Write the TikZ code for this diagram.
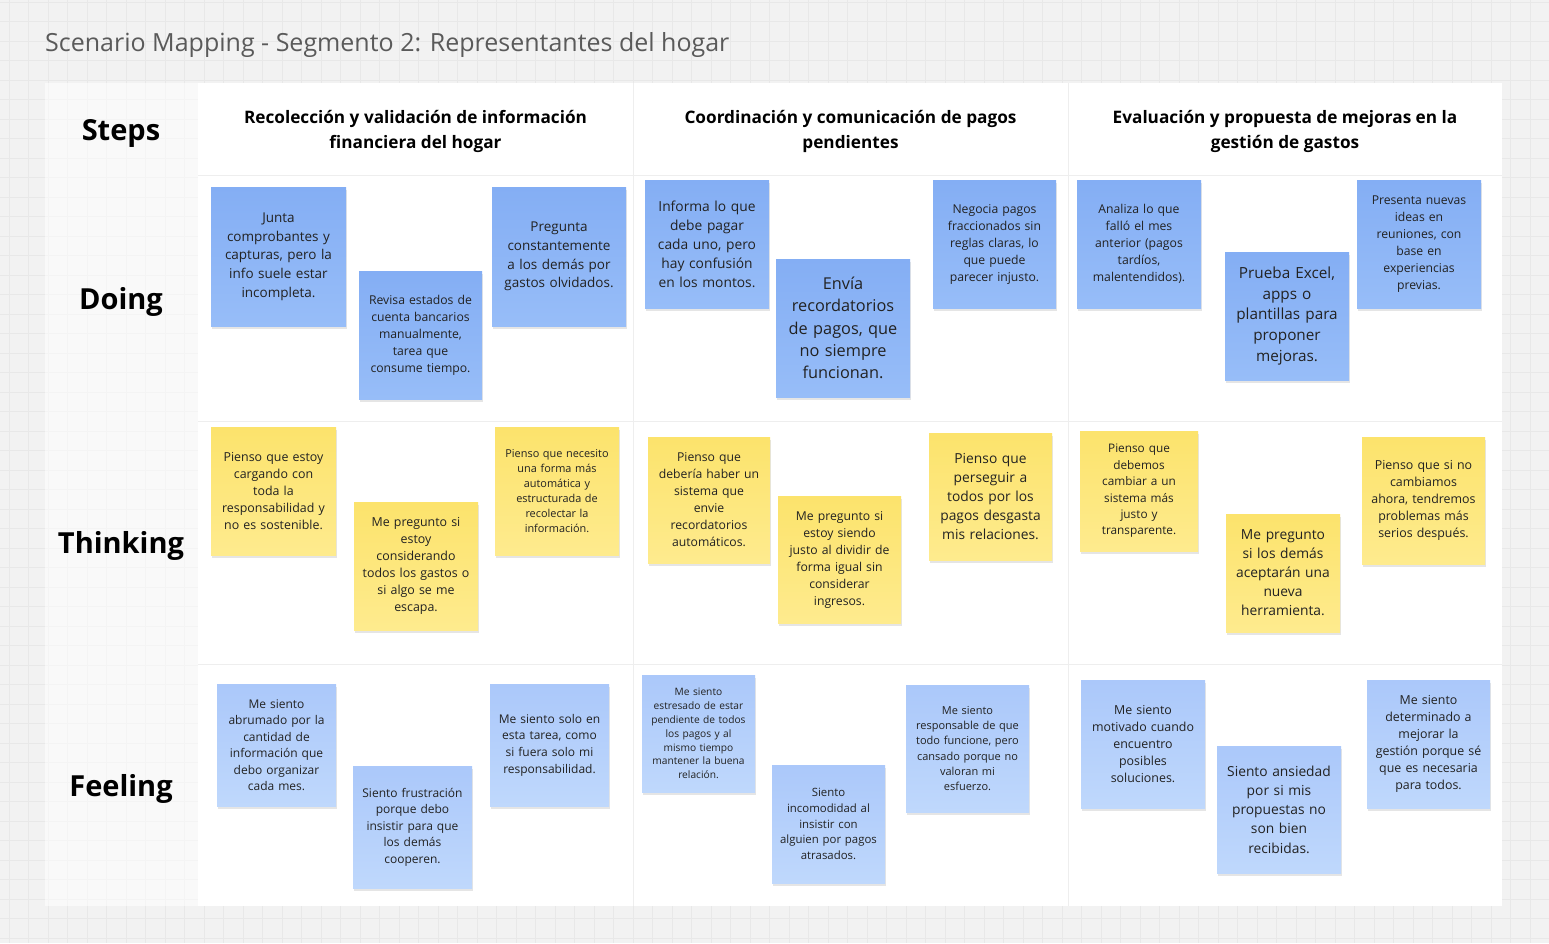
\documentclass[tikz,border=0pt]{standalone}
\usepackage{fontspec}
\setmainfont{Open Sans}
\usetikzlibrary{shadows}
\definecolor{bgc}{HTML}{F2F2F2}
\definecolor{gridc}{HTML}{E8E8E8}
\definecolor{labc}{HTML}{F6F6F6}
\definecolor{sepc}{HTML}{EEEEEE}
\definecolor{titc}{HTML}{5A5A5A}
\definecolor{txtc}{HTML}{222222}
\definecolor{dTop}{HTML}{84AEF4}
\definecolor{dBot}{HTML}{97BDF8}
\definecolor{tTop}{HTML}{FCE36C}
\definecolor{tBot}{HTML}{FEEB8E}
\definecolor{fTop}{HTML}{ABC8FA}
\definecolor{fBot}{HTML}{BFD8FC}
\tikzset{
  stk/.style={inner sep=0pt, align=center, text=txtc,
    drop shadow={fill=black, opacity=0.10, shadow xshift=0.5pt, shadow yshift=-3pt}},
  doingc/.style={top color=dTop, bottom color=dBot},
  thinkc/.style={top color=tTop, bottom color=tBot},
  feelc/.style={top color=fTop, bottom color=fBot},
  rowlab/.style={font=\fontsize{29}{34}\selectfont\bfseries, text=black},
  colhead/.style={font=\fontsize{17.2}{24.5}\selectfont\bfseries, text=black, align=center},
}
\newcommand\sticky[9]{%
  \node[stk, #6, text width=#4pt, minimum height=#5pt,
        font=\fontsize{#7}{#8}\selectfont] (#1) at (#2+#4/2, #3+#5/2) {#9};}
\begin{document}
\begin{tikzpicture}[x=1pt,y=-1pt]
\useasboundingbox (0,0) rectangle (1549,943);
\fill[bgc] (0,0) rectangle (1549,943);
\foreach \i in {0,...,80} {\draw[gridc, line width=0.8pt] (9.2+\i*19.5,0) -- (9.2+\i*19.5,943);}
\foreach \j in {0,...,49} {\draw[gridc, line width=0.8pt] (0,2+\j*19.5) -- (1549,2+\j*19.5);}
% board
\fill[white, opacity=0.55] (45,83) rectangle (198,906);
\fill[white] (198,83) rectangle (1502,906);
\draw[sepc, line width=1pt] (198,175) -- (1502,175);
\draw[sepc, line width=1pt] (198,421) -- (1502,421);
\draw[sepc, line width=1pt] (198,664) -- (1502,664);
\draw[sepc, line width=1pt] (633,83) -- (633,906);
\draw[sepc, line width=1pt] (1068,83) -- (1068,906);
% title
\node[anchor=base west, inner sep=0pt, text=titc, font=\fontsize{25}{30}\selectfont] (title) at (45,51) {Scenario Mapping - Segmento 2: Representantes del hogar};
% row labels
\node[rowlab] (lsteps) at (121,133) {Steps};
\node[rowlab] (ldoing) at (121,302) {Doing};
\node[rowlab] (lthink) at (121,546) {Thinking};
\node[rowlab] (lfeel) at (121,789) {Feeling};
% column headers
\node[colhead] (h1) at (415.5,131.5) {Recolección y validación de información\\financiera del hogar};
\node[colhead] (h2) at (850.5,131.5) {Coordinación y comunicación de pagos\\pendientes};
\node[colhead] (h3) at (1285,131.5) {Evaluación y propuesta de mejoras en la\\gestión de gastos};
% Doing
\sticky{d1}{211}{187}{135}{139}{doingc}{13.5}{18.7}{Junta\\comprobantes y\\capturas, pero la\\info suele estar\\incompleta.}
\sticky{d2}{359}{271}{123}{128}{doingc}{12.2}{17}{Revisa estados de\\cuenta bancarios\\manualmente,\\tarea que\\consume tiempo.}
\sticky{d3}{492}{187}{134}{139}{doingc}{13.5}{18.7}{Pregunta\\constantemente\\a los demás por\\gastos olvidados.}
\sticky{d4}{645}{180}{124}{128}{doingc}{13.8}{19}{Informa lo que\\debe pagar\\cada uno, pero\\hay confusión\\en los montos.}
\sticky{d5}{776}{259}{134}{138}{doingc}{16.3}{22.3}{Envía\\recordatorios\\de pagos, que\\no siempre\\funcionan.}
\sticky{d6}{933}{180}{123}{128}{doingc}{12.2}{17}{Negocia pagos\\fraccionados sin\\reglas claras, lo\\que puede\\parecer injusto.}
\sticky{d7}{1077}{180}{124}{128}{doingc}{12.2}{17}{Analiza lo que\\falló el mes\\anterior (pagos\\tardíos,\\malentendidos).}
\sticky{d8}{1225}{252}{124}{128}{doingc}{15.3}{20.8}{Prueba Excel,\\apps o\\plantillas para\\proponer\\mejoras.}
\sticky{d9}{1357}{180}{124}{128}{doingc}{12.2}{17.1}{Presenta nuevas\\ideas en\\reuniones, con\\base en\\experiencias\\previas.}
% Thinking
\sticky{t1}{211}{427}{125}{128}{thinkc}{12.4}{17}{Pienso que estoy\\cargando con\\toda la\\responsabilidad y\\no es sostenible.}
\sticky{t2}{354}{502}{124}{128}{thinkc}{12.4}{17}{Me pregunto si\\estoy\\considerando\\todos los gastos o\\si algo se me\\escapa.}
\sticky{t3}{495}{427}{124}{128}{thinkc}{10.9}{15}{Pienso que necesito\\una forma más\\automática y\\estructurada de\\recolectar la\\información.}
\sticky{t4}{648}{437}{122}{126}{thinkc}{12.2}{17}{Pienso que\\debería haber un\\sistema que\\envie\\recordatorios\\automáticos.}
\sticky{t5}{778}{496}{123}{127}{thinkc}{12.2}{17}{Me pregunto si\\estoy siendo\\justo al dividir de\\forma igual sin\\considerar\\ingresos.}
\sticky{t6}{929}{433}{123}{127}{thinkc}{13.8}{18.9}{Pienso que\\perseguir a\\todos por los\\pagos desgasta\\mis relaciones.}
\sticky{t7}{1080}{431}{118}{120}{thinkc}{11.8}{16.4}{Pienso que\\debemos\\cambiar a un\\sistema más\\justo y\\transparente.}
\sticky{t8}{1226}{514}{114}{118}{thinkc}{13.8}{19}{Me pregunto\\si los demás\\aceptarán una\\nueva\\herramienta.}
\sticky{t9}{1362}{437}{123}{127}{thinkc}{12.4}{17}{Pienso que si no\\cambiamos\\ahora, tendremos\\problemas más\\serios después.}
% Feeling
\sticky{f1}{217}{684}{119}{122}{feelc}{12}{16.5}{Me siento\\abrumado por la\\cantidad de\\información que\\debo organizar\\cada mes.}
\sticky{f2}{353}{766}{119}{122}{feelc}{12}{16.5}{Siento frustración\\porque debo\\insistir para que\\los demás\\cooperen.}
\sticky{f3}{490}{684}{119}{122}{feelc}{12}{16.6}{Me siento solo en\\esta tarea, como\\si fuera solo mi\\responsabilidad.}
\sticky{f4}{642}{675}{113}{117}{feelc}{10.2}{13.9}{Me siento\\estresado de estar\\pendiente de todos\\los pagos y al\\mismo tiempo\\mantener la buena\\relación.}
\sticky{f5}{772}{765}{113}{118}{feelc}{11.4}{15.7}{Siento\\incomodidad al\\insistir con\\alguien por pagos\\atrasados.}
\sticky{f6}{906}{685}{123}{127}{feelc}{11}{15.2}{Me siento\\responsable de que\\todo funcione, pero\\cansado porque no\\valoran mi\\esfuerzo.}
\sticky{f7}{1081}{680}{124}{128}{feelc}{12.4}{17.1}{Me siento\\motivado cuando\\encuentro\\posibles\\soluciones.}
\sticky{f8}{1217}{746}{124}{127}{feelc}{13.8}{19.2}{Siento ansiedad\\por si mis\\propuestas no\\son bien\\recibidas.}
\sticky{f9}{1367}{680}{123}{128}{feelc}{12.4}{17}{Me siento\\determinado a\\mejorar la\\gestión porque sé\\que es necesaria\\para todos.}
\end{tikzpicture}
\end{document}
